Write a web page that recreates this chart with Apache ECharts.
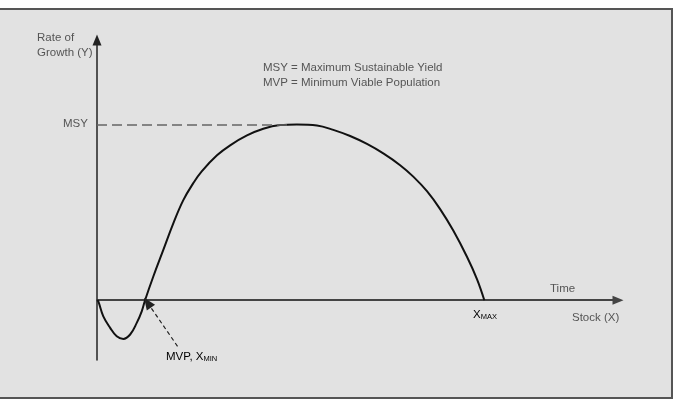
<!DOCTYPE html>
<html>
<head>
<meta charset="utf-8">
<script src="https://cdn.jsdelivr.net/npm/echarts@6/dist/echarts.min.js"></script>
<style>
  html, body { margin: 0; padding: 0; background: #fff; }
  #chart { width: 676px; height: 404px; }
</style>
</head>
<body>
<div id="chart"></div>
<script>
// stock (x) and growth (y), arbitrary units
const stock = [0, 0.25, 1.2, 2.5, 3.75, 5.0, 6.3, 7.55, 8.5, 9.13, 10.7, 12.6, 14.5, 16.4, 18.3, 19.9,
  22.8, 25.3, 28.5, 31.6, 34.8, 38.0, 41.8, 44.9, 48.1, 51.3, 54.4, 57.6, 60.1, 62.7, 65.2, 67.7,
  70.3, 72.2, 73.6];
const growth = [0, -0.7, -9.2, -15.7, -20.5, -22.0, -19.5, -12.9, -6.3, 0, 13.5, 28.6, 43.7, 56.9, 66.6, 73.3,
  82.4, 88.1, 93.7, 97.5, 99.6, 100, 99.4, 96.9, 93.4, 88.9, 83.5, 76.8, 70.3, 62.0, 51.8, 39.6,
  24.7, 12.0, 0];
const MSY = 100;
const msyEndX = 36.5;
const mvpArrow = [[15.3, -26.2], [9.6, -1.4]];
const xRange = [0, 99];
const yRange = [-34, 148];

const chart = echarts.init(document.getElementById('chart'));

const txt = { fontFamily: 'Liberation Sans', fontSize: 11.5, fill: '#555' };
const sub = {
  a: { fontFamily: 'Liberation Sans', fontSize: 11.5, color: '#555' },
  b: { fontFamily: 'Liberation Sans', fontSize: 7.5, color: '#555', verticalAlign: 'bottom' }
};

chart.setOption({
  backgroundColor: '#fff',
  animation: false,
  grid: { left: 97, right: 58, top: 40, bottom: 44 },
  xAxis: {
    type: 'value', min: xRange[0], max: xRange[1],
    axisLine: { onZero: true, symbol: ['none', 'triangle'], symbolSize: [9, 11],
      lineStyle: { color: '#444', width: 2 } },
    axisTick: { show: false }, axisLabel: { show: false }, splitLine: { show: false }
  },
  yAxis: {
    type: 'value', min: yRange[0], max: yRange[1],
    axisLine: { onZero: false, symbol: ['none', 'triangle'], symbolSize: [9, 11],
      lineStyle: { color: '#222', width: 1.5 } },
    axisTick: { show: false }, axisLabel: { show: false }, splitLine: { show: false }
  },
  graphic: [
    { type: 'rect', z: -10, shape: { x: -2, y: 9, width: 674, height: 389 },
      style: { fill: '#e2e2e2', stroke: '#555', lineWidth: 2 } },
    { type: 'text', left: 37, top: 30, style: Object.assign({ text: 'Rate of\nGrowth (Y)', lineHeight: 15.5 }, txt) },
    { type: 'text', left: 263, top: 60, style: Object.assign({ text: 'MSY = Maximum Sustainable Yield\nMVP = Minimum Viable Population', lineHeight: 15.5 }, txt) },
    { type: 'text', left: 63, top: 118, style: Object.assign({ text: 'MSY' }, txt) },
    { type: 'text', left: 550, top: 283, style: Object.assign({ text: 'Time' }, txt) },
    { type: 'text', left: 572, top: 312, style: Object.assign({ text: 'Stock (X)' }, txt) },
    { type: 'text', left: 473, top: 309, style: { text: '{a|X}{b|MAX}', rich: sub } },
    { type: 'text', left: 166, top: 351, style: { text: '{a|MVP, X}{b|MIN}', rich: sub } }
  ],
  series: [
    {
      type: 'line',
      data: stock.map((x, i) => [x, growth[i]]),
      smooth: 0.4,
      showSymbol: false,
      lineStyle: { color: '#111', width: 2 },
      z: 3,
      markLine: {
        silent: true,
        animation: false,
        label: { show: false },
        data: [
          [{ coord: [0, MSY], symbol: 'none', lineStyle: { type: [10, 5], color: '#666', width: 1.5 } },
           { coord: [msyEndX, MSY], symbol: 'none' }],
          [{ coord: mvpArrow[0], symbol: 'none', lineStyle: { type: [4, 3], color: '#222', width: 1.2 } },
           { coord: mvpArrow[1], symbol: 'triangle', symbolSize: [10, 12] }]
        ]
      }
    }
  ]
});
</script>
</body>
</html>
